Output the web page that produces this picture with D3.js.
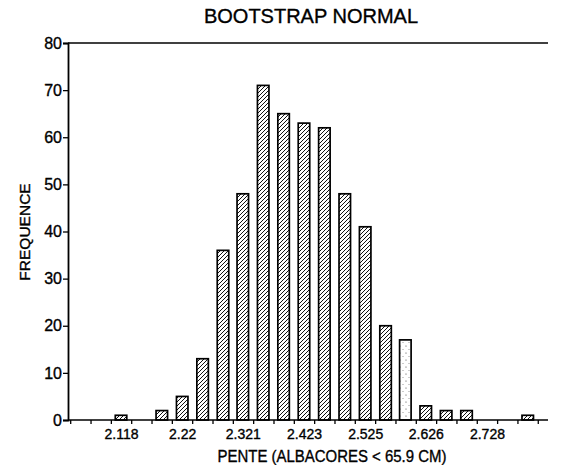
<!DOCTYPE html>
<html>
<head>
<meta charset="utf-8">
<script src="https://cdn.jsdelivr.net/npm/d3@7"></script>
<style>
  body { margin: 0; background: #fff; }
  text { font-family: "Liberation Sans", Arial, sans-serif; fill: #000; stroke: #000; stroke-width: 0.35px; }
</style>
</head>
<body>
<div id="graph"></div>
<script>

// bin midpoints (slope values) and the bootstrap counts
const binMids = [2.118, 2.152, 2.186, 2.220, 2.254, 2.288, 2.321, 2.355, 2.389, 2.423,
                 2.457, 2.491, 2.525, 2.559, 2.592, 2.626, 2.660, 2.694, 2.728, 2.762, 2.796];
const counts  = [1, 0, 2, 5, 13, 36, 48, 71, 65, 63,
                 62, 48, 41, 20, 17, 3, 2, 2, 0, 0, 1];

const xTickValues = [2.118, 2.22, 2.321, 2.423, 2.525, 2.626, 2.728];
const xTickLabels = ["2.118", "2.22", "2.321", "2.423", "2.525", "2.626", "2.728"];
const yTickValues = [0, 10, 20, 30, 40, 50, 60, 70, 80];

const binWidth = 0.03389;

var margin = {top: 43, right: 13, bottom: 45, left: 68},
    width = 561 - margin.left - margin.right,
    height = 465 - margin.top - margin.bottom;

var svg = d3.select("#graph").append("svg")
    .attr("width", 561)
    .attr("height", 465);

var defs = svg.append("defs");

// diagonal hatching used by most of the bars
var hatch = defs.append("pattern")
    .attr("id", "hatch")
    .attr("patternUnits", "userSpaceOnUse")
    .attr("width", 4)
    .attr("height", 4);
hatch.append("rect").attr("width", 4).attr("height", 4).attr("fill", "#fff");
hatch.append("path")
    .attr("d", "M-1,1 l2,-2 M0,4 l4,-4 M3,5 l2,-2")
    .attr("stroke", "#111")
    .attr("stroke-width", 1);

// the lighter stippled look of the 17-count bar
var dots = defs.append("pattern")
    .attr("id", "dots")
    .attr("patternUnits", "userSpaceOnUse")
    .attr("width", 6)
    .attr("height", 7);
dots.append("rect").attr("width", 6).attr("height", 7).attr("fill", "#fff");
dots.append("circle").attr("cx", 2).attr("cy", 2).attr("r", 0.6).attr("fill", "#444");
dots.append("circle").attr("cx", 5).attr("cy", 5.5).attr("r", 0.5).attr("fill", "#777");

var g = svg.append("g")
    .attr("transform", "translate(" + margin.left + "," + margin.top + ")");

var x = d3.scaleLinear()
    .domain([2.0296, 2.8298])
    .range([0, width]);

var y = d3.scaleLinear()
    .domain([0, 80])
    .range([height, 0]);

var barW = 11.5;

// bars
g.selectAll(".bar")
  .data(binMids)
  .enter().append("rect")
    .attr("class", "bar")
    .attr("x", function(d) { return x(d) - barW / 2; })
    .attr("y", function(d, i) { return y(counts[i]); })
    .attr("width", barW)
    .attr("height", function(d, i) { return height - y(counts[i]); })
    .attr("fill", function(d, i) { return i == 14 ? "url(#dots)" : "url(#hatch)"; })
    .attr("stroke", "#000")
    .attr("stroke-width", 1.7)
    .style("display", function(d, i) { return counts[i] > 0 ? null : "none"; });

// minor ticks at the bin edges
var edges = [];
for (var e = binMids[0] - binWidth * 2.5; e < 2.8298; e += binWidth) edges.push(e);

g.append("g")
    .attr("transform", "translate(0," + height + ")")
    .call(d3.axisBottom(x).tickValues(edges).tickSize(4).tickFormat(""))
    .call(function(a) {
      a.select(".domain").remove();
      a.selectAll("line").attr("stroke", "#000").attr("stroke-width", 1.3);
    });

// x axis labels
var xAxis = g.append("g")
    .attr("transform", "translate(0," + height + ")")
    .call(d3.axisBottom(x)
      .tickValues(xTickValues)
      .tickSize(0)
      .tickPadding(9)
      .tickFormat(function(d, i) { return xTickLabels[i]; }));
xAxis.select(".domain").remove();
xAxis.selectAll("text")
    .attr("font-size", "14px")
    .attr("font-family", "'Liberation Sans', Arial, sans-serif");

// x axis line
g.append("line")
    .attr("x1", 0).attr("x2", width)
    .attr("y1", height).attr("y2", height)
    .attr("stroke", "#000")
    .attr("stroke-width", 1.6);

// top frame line
g.append("line")
    .attr("x1", 0).attr("x2", width)
    .attr("y1", 0).attr("y2", 0)
    .attr("stroke", "#000")
    .attr("stroke-width", 1.6);

// y axis
var yAxis = g.append("g")
    .call(d3.axisLeft(y).tickValues(yTickValues).tickSize(5).tickPadding(1));
yAxis.select(".domain")
    .attr("stroke", "#000")
    .attr("stroke-width", 1.8);
yAxis.selectAll("line").attr("stroke", "#000").attr("stroke-width", 1.3);
yAxis.selectAll("text")
    .attr("font-size", "16px")
    .attr("font-family", "'Liberation Sans', Arial, sans-serif");

// title
svg.append("text")
    .attr("x", 311)
    .attr("y", 23)
    .attr("text-anchor", "middle")
    .attr("font-size", "20px")
    .text("BOOTSTRAP NORMAL");

// x label
svg.append("text")
    .attr("transform", "translate(332,462) scale(0.88,1)")
    .attr("text-anchor", "middle")
    .attr("font-size", "17px")
    .text("PENTE (ALBACORES < 65.9 CM)");

// y label
svg.append("text")
    .attr("transform", "translate(30,232) rotate(-90)")
    .attr("text-anchor", "middle")
    .attr("font-size", "15.5px")
    .text("FREQUENCE");

</script>
</body>
</html>
